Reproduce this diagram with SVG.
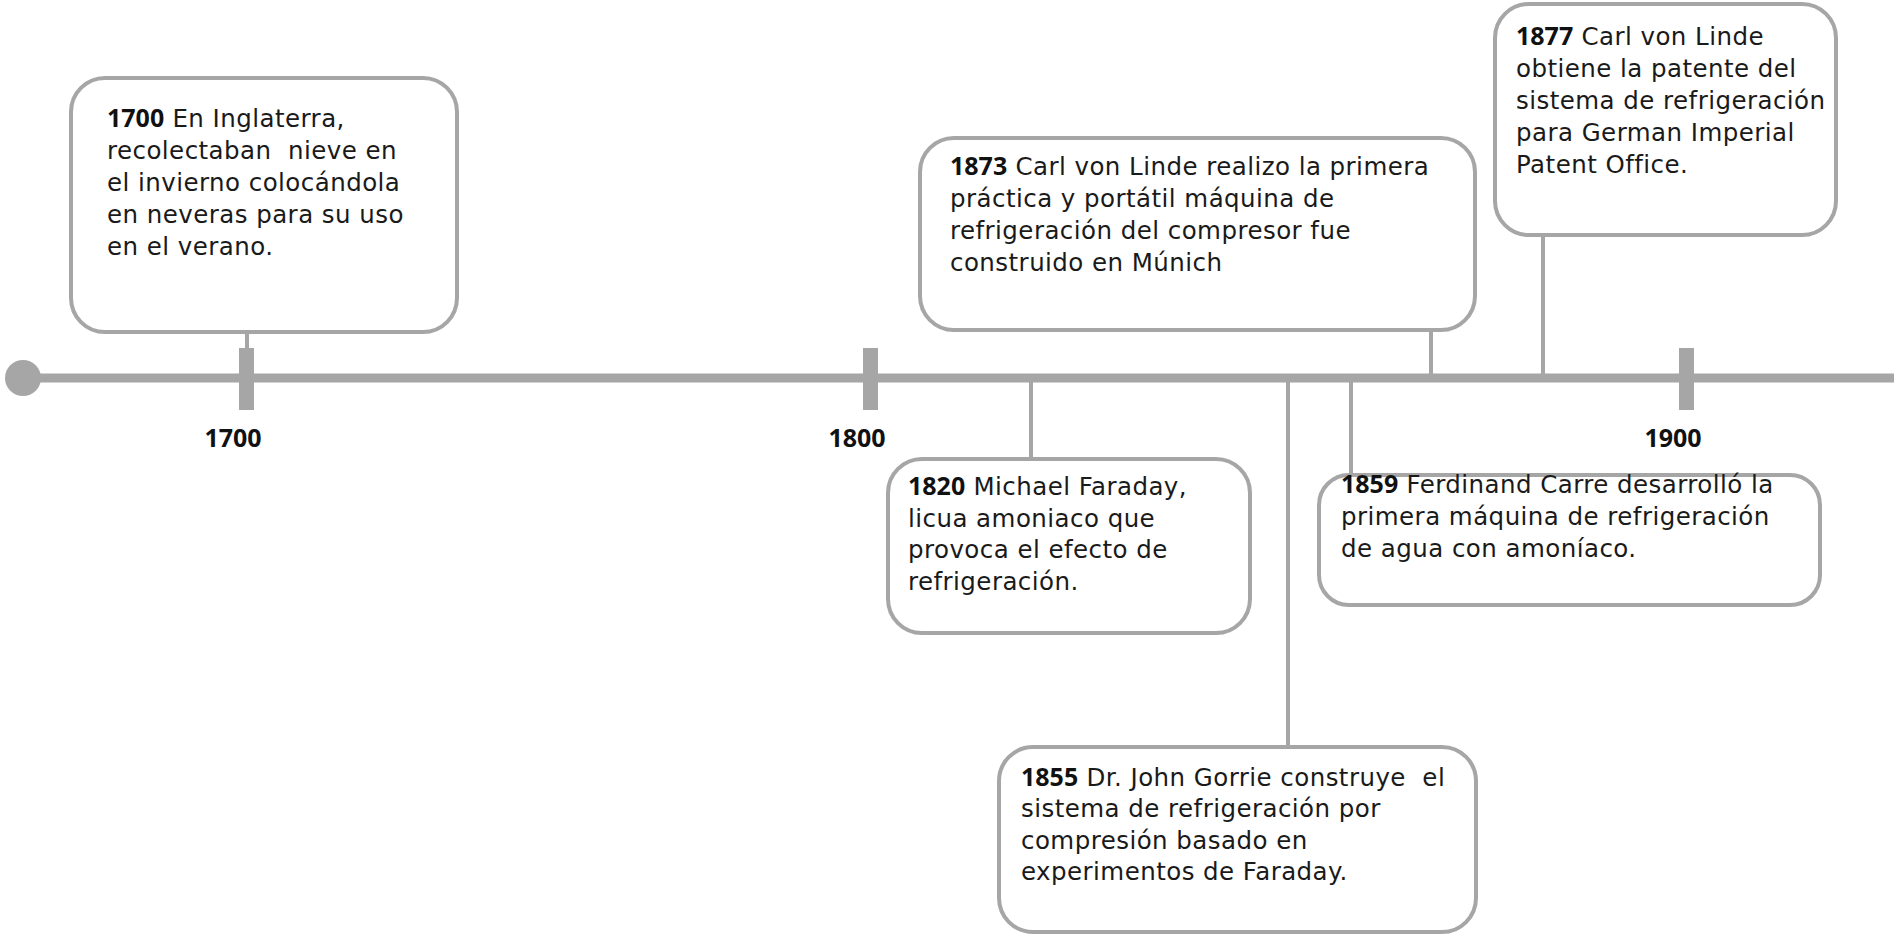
<svg xmlns="http://www.w3.org/2000/svg" width="1894" height="935" viewBox="0 0 1894 935">
  <style>
    .box { fill: #ffffff; stroke: #a6a6a6; stroke-width: 4; }
    .link { stroke: #a6a6a6; stroke-width: 4; fill: none; }
    .axis { stroke: #a6a6a6; stroke-width: 9; fill: none; }
    .tick { fill: #a6a6a6; }
    .txt { font-family: "DejaVu Sans", "Liberation Sans", sans-serif; font-size: 24.5px; letter-spacing: 0.45px; fill: #1a1a1a; white-space: pre; }
    .yr { font-family: "Open Sans", "Liberation Sans", sans-serif; font-weight: bold; font-size: 25px; letter-spacing: 0; fill: #111111; }
    .axislabel { font-family: "Open Sans", "Liberation Sans", sans-serif; font-weight: bold; font-size: 25px; fill: #111111; text-anchor: middle; }
  </style>

  <!-- time axis -->
  <g id="axis">
    <line class="axis" x1="23" y1="378" x2="1894" y2="378"/>
    <circle cx="23" cy="378" r="18" fill="#a6a6a6"/>
    <rect class="tick" x="239" y="348" width="15" height="62"/>
    <rect class="tick" x="863" y="348" width="15" height="62"/>
    <rect class="tick" x="1679" y="348" width="15" height="62"/>
    <text class="axislabel" x="233" y="447">1700</text>
    <text class="axislabel" x="857" y="447">1800</text>
    <text class="axislabel" x="1673" y="447">1900</text>
  </g>

  <!-- stems from the axis to each event -->
  <g id="connectors">
    <line class="link" x1="247" y1="332" x2="247" y2="350"/>
    <line class="link" x1="1431" y1="330" x2="1431" y2="378"/>
    <line class="link" x1="1543" y1="235" x2="1543" y2="378"/>
    <line class="link" x1="1031" y1="378" x2="1031" y2="459"/>
    <line class="link" x1="1288" y1="378" x2="1288" y2="747"/>
    <line class="link" x1="1351" y1="378" x2="1351" y2="475"/>
  </g>

  <g id="ev1700">
    <rect class="box" x="71" y="78" width="386" height="254" rx="34"/>
    <text class="txt" x="107" y="127"><tspan class="yr">1700</tspan> En Inglaterra,</text>
    <text class="txt" x="107" y="159">recolectaban  nieve en</text>
    <text class="txt" x="107" y="191">el invierno colocándola</text>
    <text class="txt" x="107" y="223">en neveras para su uso</text>
    <text class="txt" x="107" y="255">en el verano.</text>
  </g>

  <g id="ev1873">
    <rect class="box" x="920" y="138" width="555" height="192" rx="34"/>
    <text class="txt" x="950" y="175"><tspan class="yr">1873</tspan> Carl von Linde realizo la primera</text>
    <text class="txt" x="950" y="207">práctica y portátil máquina de</text>
    <text class="txt" x="950" y="239">refrigeración del compresor fue</text>
    <text class="txt" x="950" y="271">construido en Múnich</text>
  </g>

  <g id="ev1877">
    <rect class="box" x="1495" y="4" width="341" height="231" rx="34"/>
    <text class="txt" x="1516" y="45"><tspan class="yr">1877</tspan> Carl von Linde</text>
    <text class="txt" x="1516" y="77">obtiene la patente del</text>
    <text class="txt" x="1516" y="109">sistema de refrigeración</text>
    <text class="txt" x="1516" y="141">para German Imperial</text>
    <text class="txt" x="1516" y="173">Patent Office.</text>
  </g>

  <g id="ev1820">
    <rect class="box" x="888" y="459" width="362" height="174" rx="34"/>
    <text class="txt" x="908" y="495"><tspan class="yr">1820</tspan> Michael Faraday,</text>
    <text class="txt" x="908" y="527">licua amoniaco que</text>
    <text class="txt" x="908" y="558">provoca el efecto de</text>
    <text class="txt" x="908" y="590">refrigeración.</text>
  </g>

  <g id="ev1859">
    <rect class="box" x="1319" y="475" width="501" height="130" rx="30"/>
    <text class="txt" x="1341" y="493"><tspan class="yr">1859</tspan> Ferdinand Carre desarrolló la</text>
    <text class="txt" x="1341" y="525">primera máquina de refrigeración</text>
    <text class="txt" x="1341" y="557">de agua con amoníaco.</text>
  </g>

  <g id="ev1855">
    <rect class="box" x="999" y="747" width="477" height="185" rx="34"/>
    <text class="txt" x="1021" y="786"><tspan class="yr">1855</tspan> Dr. John Gorrie construye  el</text>
    <text class="txt" x="1021" y="817">sistema de refrigeración por</text>
    <text class="txt" x="1021" y="849">compresión basado en</text>
    <text class="txt" x="1021" y="880">experimentos de Faraday.</text>
  </g>
</svg>
